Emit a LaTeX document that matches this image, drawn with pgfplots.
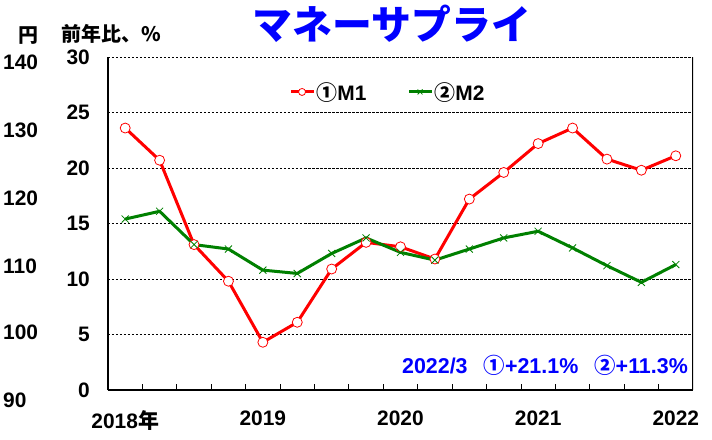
\documentclass[border=0pt]{standalone}
\usepackage{fontspec}
\setmainfont{Liberation Sans}
\newfontfamily\jp{Noto Sans CJK JP}
\usepackage{pgfplots}
\pgfplotsset{compat=1.18}
\definecolor{mred}{RGB}{255,0,0}
\definecolor{mgreen}{RGB}{0,128,0}
\definecolor{mblue}{RGB}{0,0,255}
\newcommand{\lf}{\fontsize{21}{23}\selectfont\bfseries}
\begin{document}
\begin{tikzpicture}
\begin{axis}[
  at={(0,0)}, anchor=south west, scale only axis,
  width=585bp, height=333bp,
  xmin=0, xmax=17, ymin=0, ymax=30,
  axis x line*=bottom, axis y line*=left,
  axis line style={-, line width=1.2bp, black},
  tick align=inside,
  xtick={1,...,16}, xticklabels={},
  x tick style={black, line width=0.8bp},
  major tick length=6bp,
  extra x ticks={0.5,4.5,8.5,12.5,16.5},
  extra x tick labels={2018{\jp\bfseries 年},2019,2020,2021,2022},
  extra x tick style={major tick length=0pt, grid=none},
  xticklabel style={font=\lf, yshift=-17bp},
  ytick={0,5,...,30},
  y tick style={draw=none},
  ymajorgrids,
  grid style={black, line width=0.6bp, dash pattern=on 2.5bp off 1.5bp},
  yticklabel style={font=\lf, inner sep=0pt, xshift=-18bp},
  /pgf/number format/assume math mode=true,
  legend style={at={(axis description cs:0.31,0.895)}, anchor=west,
    draw=none, fill=none, font=\lf, inner sep=0pt,
    nodes={inner sep=1bp},
    /tikz/every even column/.append style={column sep=40bp}},
  legend columns=2,
  legend image code/.code={\draw[#1, mark size=3.5bp, mark repeat=2, mark phase=2] plot coordinates {(0bp,0bp) (11bp,0bp) (23bp,0bp)};},
]
\addplot[color=mred, line width=3bp, mark=*, mark size=5bp,
  mark options={fill=white, draw=mred, line width=0.8bp}]
  coordinates {(0.5,23.6) (1.5,20.7) (2.5,13.1) (3.5,9.8) (4.5,4.3) (5.5,6.1)
  (6.5,10.9) (7.5,13.3) (8.5,12.9) (9.5,11.8) (10.5,17.2) (11.5,19.6)
  (12.5,22.2) (13.5,23.6) (14.5,20.8) (15.5,19.8) (16.5,21.1)};
\addlegendentry{{\jp\bfseries ①}M1}
\addplot[color=mgreen, line width=3bp, mark=x, mark size=5bp,
  mark options={draw=mgreen, line width=0.8bp}]
  coordinates {(0.5,15.4) (1.5,16.1) (2.5,13.1) (3.5,12.7) (4.5,10.8) (5.5,10.5)
  (6.5,12.3) (7.5,13.7) (8.5,12.4) (9.5,11.7) (10.5,12.7) (11.5,13.7)
  (12.5,14.3) (13.5,12.8) (14.5,11.2) (15.5,9.7) (16.5,11.3)};
\addlegendentry{{\jp\bfseries ②}M2}
\draw[line width=1.2bp, black] (axis description cs:1,0) -- (axis description cs:1,1);
\end{axis}
\path[use as bounding box] (-108bp,-50bp) rectangle (604bp,390bp);
\node[text=mblue, font=\jp\bfseries\fontsize{40}{42}\selectfont] at (284bp,366bp) {マネーサプライ};
\node[font=\jp\bfseries\fontsize{20}{22}\selectfont] at (-80bp,354bp) {円};
\node[font=\jp\bfseries\fontsize{20}{22}\selectfont] at (3bp,356bp) {前年比、\%};
\foreach \v/\y in {140/328,130/260,120/192,110/124,100/58,90/-10}
  \node[anchor=west, font=\lf, inner sep=0pt] at (-105bp,\y bp) {\v};
\node[anchor=east, text=mblue, font=\fontsize{21.5}{23}\selectfont\bfseries, inner sep=0pt]
  at (580bp,25bp) {2022/3\hspace{16bp}{\jp\bfseries ①}+21.1\%\hspace{16bp}{\jp\bfseries ②}+11.3\%};
\end{tikzpicture}
\end{document}
